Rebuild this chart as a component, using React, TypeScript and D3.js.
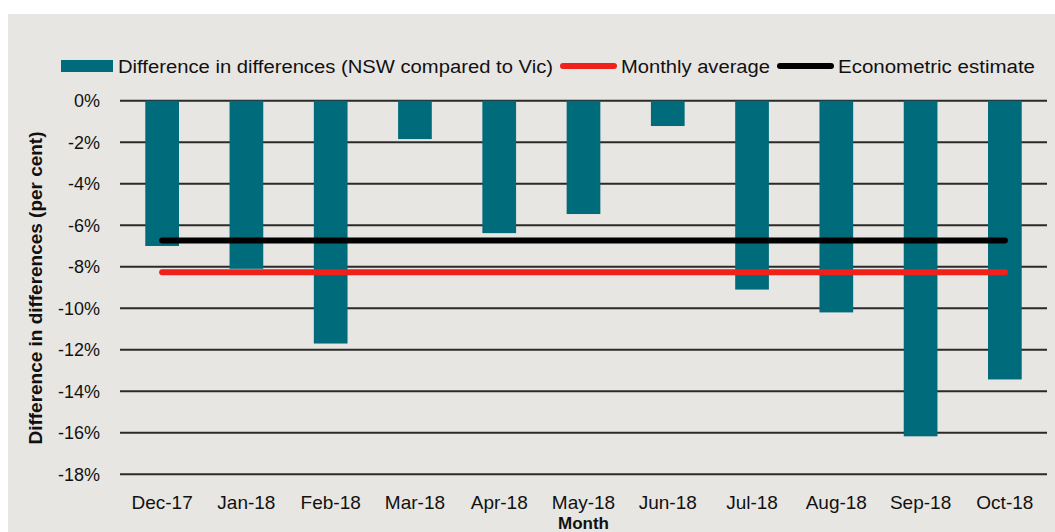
import React from "react";
import * as d3 from "d3";

const months = ["Dec-17", "Jan-18", "Feb-18", "Mar-18", "Apr-18", "May-18", "Jun-18", "Jul-18", "Aug-18", "Sep-18", "Oct-18"];
const diffValues = [-7.0, -8.1, -11.7, -1.85, -6.38, -5.46, -1.22, -9.1, -10.2, -16.17, -13.43];
const monthlyAverage = -8.26;
const econometricEstimate = -6.73;
const yTicks = [0, -2, -4, -6, -8, -10, -12, -14, -16, -18];

const W = 1055;
const H = 532;
const FONT = "'Liberation Sans', Arial, sans-serif";
const TEAL = "#006b7a";
const RED = "#f0201a";
const BG = "#e8e6e2";

export default function App() {
  const x = d3.scaleBand<string>().domain(months).range([120, 1047]).paddingInner(0.6).paddingOuter(0.3);
  const y = d3.scaleLinear().domain([-18, 0]).range([474.3, 100.7]);
  const xFirst = (x(months[0]) ?? 0) + x.bandwidth() / 2;
  const xLast = (x(months[months.length - 1]) ?? 0) + x.bandwidth() / 2;
  const line = d3.line<[number, number]>().x((d) => d[0]).y((d) => d[1]);

  return (
    <svg width={W} height={H} style={{ position: "absolute", left: 0, top: 0, display: "block" }} fontFamily={FONT}>
      <rect x={0} y={0} width={W} height={H} fill="#ffffff" />
      <rect x={8} y={14} width={W - 8} height={H - 14} fill={BG} />

      {/* legend */}
      <rect x={61} y={60} width={52} height={12} fill={TEAL} />
      <text x={118} y={73} fontSize={18} fill="#111" textLength={435} lengthAdjust="spacingAndGlyphs">Difference in differences (NSW compared to Vic)</text>
      <line x1={563} x2={614} y1={66} y2={66} stroke={RED} strokeWidth={6} strokeLinecap="round" />
      <text x={621} y={73} fontSize={18} fill="#111" textLength={149} lengthAdjust="spacingAndGlyphs">Monthly average</text>
      <line x1={780} x2={831} y1={66} y2={66} stroke="#000" strokeWidth={6} strokeLinecap="round" />
      <text x={838} y={73} fontSize={18} fill="#111" textLength={197} lengthAdjust="spacingAndGlyphs">Econometric estimate</text>

      {/* gridlines and y ticks */}
      {yTicks.map((t) => (
        <g key={t}>
          <line x1={120} x2={1047} y1={y(t)} y2={y(t)} stroke="#2a2a2a" strokeWidth={2} />
          <text x={100} y={y(t) + 6.5} fontSize={18} textAnchor="end" fill="#111">{`${t}%`}</text>
        </g>
      ))}

      {/* bars */}
      {months.map((m, i) => (
        <rect key={m} x={x(m)} y={y(0)} width={x.bandwidth()} height={y(diffValues[i]) - y(0)} fill={TEAL} />
      ))}

      {/* lines */}
      <path d={line([[xFirst, y(econometricEstimate)], [xLast, y(econometricEstimate)]]) ?? ""} stroke="#000" strokeWidth={6} strokeLinecap="round" fill="none" />
      <path d={line([[xFirst, y(monthlyAverage)], [xLast, y(monthlyAverage)]]) ?? ""} stroke={RED} strokeWidth={6} strokeLinecap="round" fill="none" />

      {/* x labels */}
      {months.map((m) => (
        <text key={m} x={(x(m) ?? 0) + x.bandwidth() / 2} y={509} fontSize={19} textAnchor="middle" fill="#111">{m}</text>
      ))}
      <text x={583.5} y={529} fontSize={17} fontWeight="bold" textAnchor="middle" fill="#111">Month</text>

      <text transform="translate(42,288) rotate(-90)" fontSize={17.5} fontWeight="bold" textAnchor="middle" fill="#111" textLength={313} lengthAdjust="spacingAndGlyphs">Difference  in differences  (per cent)</text>
    </svg>
  );
}
